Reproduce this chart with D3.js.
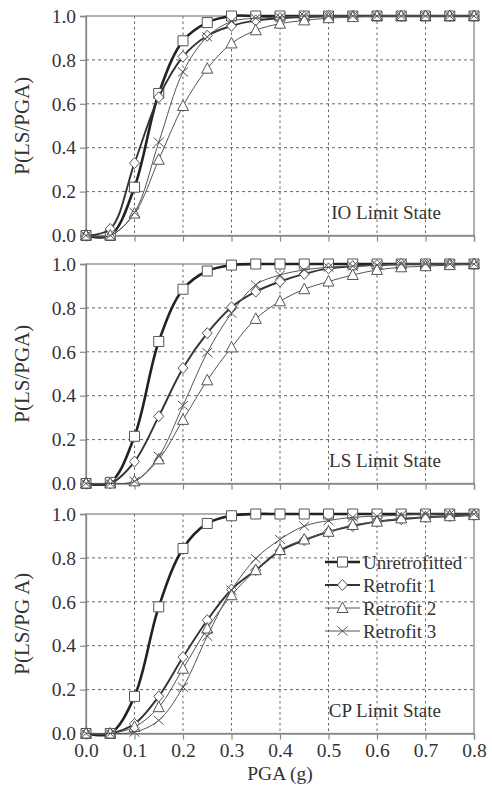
<!DOCTYPE html>
<html>
<head>
<meta charset="utf-8">
<script src="https://cdn.jsdelivr.net/npm/d3@7"></script>
<style>
  html, body { margin: 0; padding: 0; background: #fff; }
  svg, svg text { font-family: "Liberation Serif", "DejaVu Serif", serif !important; }
</style>
</head>
<body>
<svg width="492" height="786"></svg>
<script>
// PGA values (g) at which each fragility point was computed
const pga = [0, 0.05, 0.1, 0.15, 0.2, 0.25, 0.3, 0.35, 0.4, 0.45, 0.5, 0.55, 0.6, 0.65, 0.7, 0.75, 0.8];

const seriesNames = ["Unretrofitted", "Retrofit 1", "Retrofit 2", "Retrofit 3"];
const panelNames = ["IO Limit State", "LS Limit State", "CP Limit State"];
const yLabels = ["P(LS/PGA)", "P(LS/PGA)", "P(LS/PG A)"];
const xTicks = [0, 0.1, 0.2, 0.3, 0.4, 0.5, 0.6, 0.7, 0.8];
const yTicks = [0, 0.2, 0.4, 0.6, 0.8, 1.0];

// IO limit state
const ioUnretrofitted = [0, 0.0, 0.22, 0.647, 0.887, 0.97, 1.0, 1.0, 1.0, 1.0, 1.0, 1.0, 1.0, 1.0, 1.0, 1.0, 1.0];
const ioRetrofit1 = [0, 0.03, 0.33, 0.63, 0.815, 0.91, 0.955, 0.98, 0.99, 0.995, 1.0, 1.0, 1.0, 1.0, 1.0, 1.0, 1.0];
const ioRetrofit2 = [0, 0.0, 0.10, 0.345, 0.59, 0.76, 0.875, 0.935, 0.965, 0.98, 0.99, 0.995, 1.0, 1.0, 1.0, 1.0, 1.0];
const ioRetrofit3 = [0, 0.0, 0.105, 0.425, 0.745, 0.905, 0.975, 0.99, 0.995, 1.0, 1.0, 1.0, 1.0, 1.0, 1.0, 1.0, 1.0];

// LS limit state
const lsUnretrofitted = [0, 0.005, 0.215, 0.647, 0.885, 0.968, 0.995, 1.0, 1.0, 1.0, 1.0, 1.0, 1.0, 1.0, 1.0, 1.0, 1.0];
const lsRetrofit1 = [0, 0.0, 0.10, 0.306, 0.526, 0.685, 0.803, 0.874, 0.92, 0.955, 0.98, 0.99, 0.995, 1.0, 1.0, 1.0, 1.0];
const lsRetrofit2 = [0, 0.0, 0.01, 0.11, 0.29, 0.47, 0.62, 0.75, 0.83, 0.885, 0.92, 0.95, 0.973, 0.985, 0.99, 0.995, 1.0];
const lsRetrofit3 = [0, 0.0, 0.01, 0.124, 0.355, 0.597, 0.776, 0.905, 0.95, 0.973, 0.985, 0.99, 0.995, 1.0, 1.0, 1.0, 1.0];

// CP limit state
const cpUnretrofitted = [0, 0.0, 0.169, 0.577, 0.843, 0.957, 0.992, 1.0, 1.0, 1.0, 1.0, 1.0, 1.0, 1.0, 1.0, 1.0, 1.0];
const cpRetrofit1 = [0, 0.0, 0.044, 0.169, 0.348, 0.516, 0.656, 0.744, 0.832, 0.881, 0.919, 0.945, 0.965, 0.976, 0.985, 0.99, 0.995];
const cpRetrofit2 = [0, 0.0, 0.03, 0.12, 0.295, 0.478, 0.63, 0.744, 0.836, 0.884, 0.919, 0.95, 0.965, 0.98, 0.985, 0.99, 0.995];
const cpRetrofit3 = [0, 0.0, 0.006, 0.06, 0.211, 0.443, 0.653, 0.797, 0.884, 0.945, 0.97, 0.985, 0.99, 0.995, 1.0, 1.0, 1.0];

const panelData = [
  [ioUnretrofitted, ioRetrofit1, ioRetrofit2, ioRetrofit3],
  [lsUnretrofitted, lsRetrofit1, lsRetrofit2, lsRetrofit3],
  [cpUnretrofitted, cpRetrofit1, cpRetrofit2, cpRetrofit3]
];

const svg = d3.select("svg");
const left = 86, right = 474;
const panelTops = [16, 264, 514];
const panelH = 219.5;

const lineStyle = [
  { width: 2.6, color: "#222" },
  { width: 1.9, color: "#333" },
  { width: 1.0, color: "#555" },
  { width: 1.0, color: "#555" }
];

// marker shapes, centred on 0,0
const markerPath = [
  "M-5,-5H5V5H-5Z",
  "M0,-5.5L5,0L0,5.5L-5,0Z",
  "M0,-6L5.5,4.5H-5.5Z",
  "M-5,-4.5L5,4.5M-5,4.5L5,-4.5"
];

const x = d3.scaleLinear().domain([0, 0.8]).range([left, right]);

panelData.forEach((series, p) => {
  const top = panelTops[p];
  const y = d3.scaleLinear().domain([0, 1]).range([top + panelH, top]);
  const g = svg.append("g");

  // grid
  g.selectAll(".vgrid")
    .data(xTicks.slice(1, -1))
    .enter()
    .append("line")
    .attr("x1", d => x(d)).attr("x2", d => x(d))
    .attr("y1", top).attr("y2", top + panelH)
    .attr("stroke", "#666").attr("stroke-width", 1)
    .attr("stroke-dasharray", "2.5,3");
  g.selectAll(".hgrid")
    .data(yTicks.slice(1, -1))
    .enter()
    .append("line")
    .attr("x1", left).attr("x2", right)
    .attr("y1", d => y(d)).attr("y2", d => y(d))
    .attr("stroke", "#666").attr("stroke-width", 1)
    .attr("stroke-dasharray", "3,3");

  // frame
  g.append("rect")
    .attr("x", left).attr("y", top)
    .attr("width", right - left).attr("height", panelH)
    .attr("fill", "none").attr("stroke", "#888").attr("stroke-width", 1.3);

  // axes
  const yAxis = g.append("g")
    .attr("transform", `translate(${left},0)`)
    .call(d3.axisLeft(y).tickValues(yTicks).tickSize(6).tickPadding(4).tickFormat(d3.format(".1f")));
  const xAxis = g.append("g")
    .attr("transform", `translate(0,${top + panelH})`)
    .call(d3.axisBottom(x).tickValues(xTicks).tickSize(6).tickPadding(4).tickFormat(d3.format(".1f")));
  [yAxis, xAxis].forEach(a => {
    a.attr("font-family", null);
    a.select(".domain").attr("stroke", "#888").attr("stroke-width", 1.3);
    a.selectAll(".tick line").attr("stroke", "#888").attr("stroke-width", 1.2);
    a.selectAll("text").attr("font-size", 19.5).attr("fill", "#333");
  });
  if (p < 2) xAxis.selectAll("text").remove();

  // y label
  g.append("text")
    .attr("transform", `translate(29,${top + panelH / 2}) rotate(-90)`)
    .attr("text-anchor", "middle")
    .attr("font-size", 21)
    .attr("fill", "#333")
    .text(yLabels[p]);

  // panel title
  g.append("text")
    .attr("x", 441).attr("y", top + panelH - 17)
    .attr("text-anchor", "end")
    .attr("font-size", 19)
    .attr("fill", "#333")
    .text(panelNames[p]);

  const line = d3.line()
    .x((d, i) => x(pga[i]))
    .y(d => y(d))
    .curve(d3.curveCatmullRom.alpha(0.5));

  series.forEach((vals, s) => {
    g.append("path")
      .datum(vals)
      .attr("d", line)
      .attr("fill", "none")
      .attr("stroke", lineStyle[s].color)
      .attr("stroke-width", lineStyle[s].width);
    g.selectAll(".m" + s)
      .data(vals)
      .enter()
      .append("path")
      .attr("class", "m" + s)
      .attr("transform", (d, i) => `translate(${x(pga[i])},${y(d)})`)
      .attr("d", markerPath[s])
      .attr("fill", s === 3 ? "none" : "#fff")
      .attr("stroke", "#555")
      .attr("stroke-width", 1);
  });
});

// x-axis title
svg.append("text")
  .attr("x", x(0.4)).attr("y", 780)
  .attr("text-anchor", "middle")
  .attr("font-size", 19.5)
  .attr("fill", "#333")
  .text("PGA (g)");

// legend in the CP panel
const legendY = [562, 585, 608, 631];
const legend = svg.append("g");
seriesNames.forEach((name, s) => {
  const ly = legendY[s];
  legend.append("line")
    .attr("x1", 325).attr("x2", 360)
    .attr("y1", ly).attr("y2", ly)
    .attr("stroke", lineStyle[s].color)
    .attr("stroke-width", lineStyle[s].width);
  legend.append("path")
    .attr("transform", `translate(342.5,${ly})`)
    .attr("d", markerPath[s])
    .attr("fill", s === 3 ? "none" : "#fff")
    .attr("stroke", "#555")
    .attr("stroke-width", 1);
  legend.append("text")
    .attr("x", 363).attr("y", ly)
    .attr("dy", "0.35em")
    .attr("font-size", 19)
    .attr("fill", "#333")
    .text(name);
});
</script>
</body>
</html>
